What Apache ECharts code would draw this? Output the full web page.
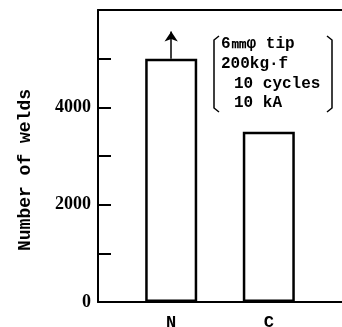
<!DOCTYPE html>
<html><head><meta charset="utf-8">
<script src="https://cdn.jsdelivr.net/npm/echarts@6/dist/echarts.min.js"></script>
<style>html,body{margin:0;padding:0;background:#fff}#c{width:342px;height:327px}</style>
</head><body><div id="c"></div>
<script>
// data
const categories = ['N', 'C'];
const welds = [5000, 3500];
const arrowFrom = 5000;   // N bar is a lower bound: arrow up
const arrowTo = 5560;
const yTicks = [0, 2000, 4000];
const noteLines = ['6\u339c\u03c6 tip', '200kg\u00b7f', '10 cycles', '10 kA'];

// padded category axis (empty slots around bars)
const cats = ['', categories[0], ' ', categories[1], '  '];
const vals = [null, welds[0], null, welds[1], null];

const chart = echarts.init(document.getElementById('c'));
const serif = 'Liberation Serif';
const mono = 'Liberation Mono';
chart.setOption({
  animation: false,
  grid: { left: 98, right: 0, top: 10, bottom: 25, outerBoundsMode: 'none', containLabel: false },
  xAxis: [{
    type: 'category', data: cats, position: 'bottom',
    axisLine: { lineStyle: { color: '#000', width: 2 } },
    axisTick: { show: false },
    axisLabel: { color: '#000', fontFamily: mono, fontWeight: 'bold', fontSize: 17, margin: 12 }
  }, {
    type: 'category', data: cats, position: 'top',
    axisLine: { show: true, lineStyle: { color: '#000', width: 2 } },
    axisTick: { show: false }, axisLabel: { show: false }
  }],
  yAxis: {
    type: 'value', min: 0, max: 6000, interval: 1000,
    name: 'Number of welds', nameLocation: 'middle', nameGap: 64,
    nameTextStyle: { color: '#000', fontFamily: mono, fontWeight: 'bold', fontSize: 18, padding: [0, 28, 0, 0] },
    axisLine: { show: true, lineStyle: { color: '#000', width: 2 } },
    axisTick: { show: true, inside: true, length: 13, lineStyle: { color: '#000', width: 2 } },
    splitLine: { show: false },
    axisLabel: {
      color: '#000', fontFamily: serif, fontWeight: 'bold', fontSize: 18, margin: 7,
      formatter: v => yTicks.includes(v) ? String(v) : ''
    }
  },
  series: [{
    type: 'bar', data: vals, barWidth: 52, xAxisIndex: 0,
    itemStyle: { color: '#fff', borderColor: '#000', borderWidth: 2.5 },
    markLine: {
      silent: true, symbol: ['none', 'arrow'], symbolSize: 10,
      lineStyle: { color: '#000', width: 1.5, type: 'solid' },
      itemStyle: { color: '#000' },
      label: { show: false },
      data: [[{ coord: [categories[0], arrowFrom] }, { coord: [categories[0], arrowTo] }]]
    }
  }],
  graphic: [
    { type: 'polyline', shape: { points: [[219, 36], [214, 40], [214, 108], [219, 112]] }, style: { stroke: '#000', lineWidth: 1.5, fill: null } },
    { type: 'polyline', shape: { points: [[327, 36], [332, 40], [332, 108], [327, 112]] }, style: { stroke: '#000', lineWidth: 1.5, fill: null } },
    { type: 'text', left: 221, top: 36, style: { text: noteLines[0], font: 'bold 16px "Liberation Mono"', fill: '#000' } },
    { type: 'text', left: 221, top: 56, style: { text: noteLines[1], font: 'bold 16px "Liberation Mono"', fill: '#000' } },
    { type: 'text', left: 234, top: 76, style: { text: noteLines[2], font: 'bold 16px "Liberation Mono"', fill: '#000' } },
    { type: 'text', left: 234, top: 95, style: { text: noteLines[3], font: 'bold 16px "Liberation Mono"', fill: '#000' } }
  ]
});
</script></body></html>
